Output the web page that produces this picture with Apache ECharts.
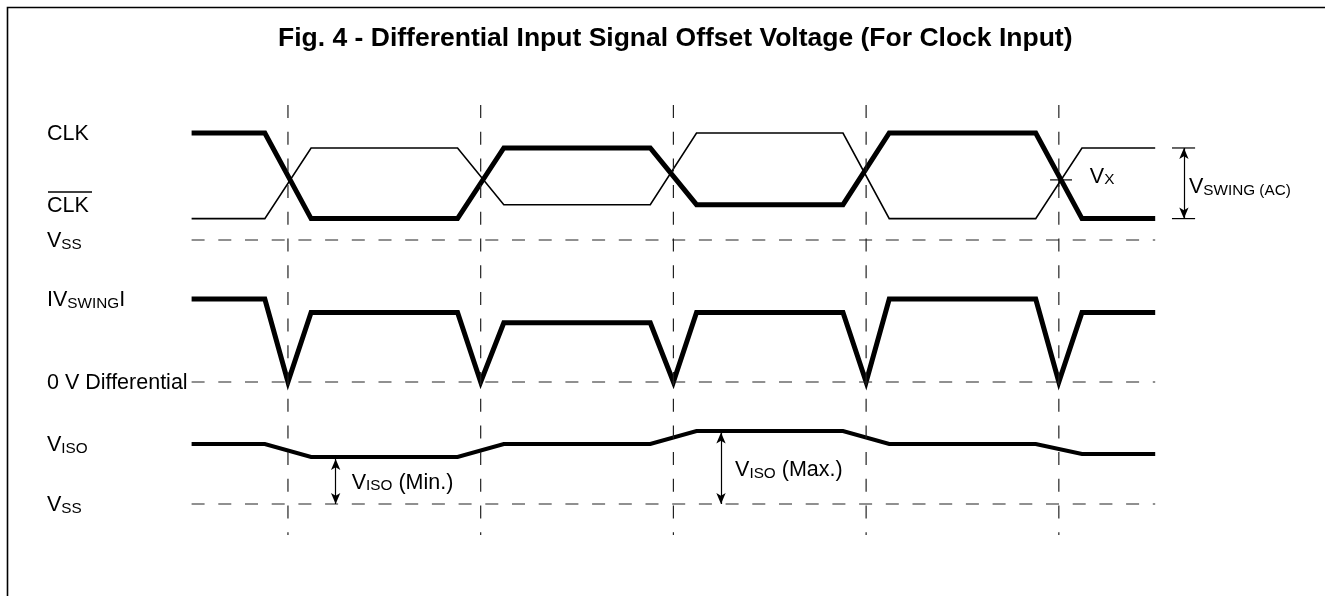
<!DOCTYPE html>
<html><head><meta charset="utf-8">
<script src="https://cdn.jsdelivr.net/npm/echarts@6/dist/echarts.min.js"></script>
<style>html,body{margin:0;padding:0;background:#fff}#c{width:1325px;height:596px}</style>
</head><body><div id="c"></div>
<script>
// ---------------- data ----------------
const titleText = 'Fig. 4 - Differential Input Signal Offset Voltage (For Clock Input)';
const edgeTimes = [1, 2, 3, 4, 5];           // crossing points (half clock periods)
const tStart = 0.5, tEnd = 5.5, tRamp = 0.12; // waveform span and half rise/fall time
const clkLevels    = [1.0, 0.2, 0.86, 0.33, 1.0, 0.2];   // V above Vss, per half period
const clkBarLevels = [0.2, 0.86, 0.33, 1.0, 0.2, 0.86];
const swingLevels  = [0.8, 0.67, 0.57, 0.67, 0.8, 0.67]; // |Vswing|
const visoLevels   = [0.6, 0.47, 0.6, 0.73, 0.6, 0.5];   // Viso
const lane1Ticks  = [1.0, 0.33, 0];
const lane1Labels = ['{b|CLK}', '{b|CLK}', '{b|V}{s|SS}'];
const lane2Ticks  = [0.8, 0];
const lane2Labels = ['{b|IV}{s|SWING}{b|I}', '{b|0 V Differential}'];
const lane3Ticks  = [0.6, 0];
const lane3Labels = ['{b|V}{s|ISO}', '{b|V}{s|SS}'];
const vxLabel = '{b|V}{s|X}';
const vswingLabel = '{b|V}{s|SWING (AC)}';
const visoMinLabel = '{b|V}{s|ISO}{b| (Min.)}';
const visoMaxLabel = '{b|V}{s|ISO}{b| (Max.)}';

// ---------------- style / layout ----------------
const FONT = "'Liberation Sans', Arial, Helvetica, sans-serif";
const BIG = 21.5, SMALL = 15.3;
const rich = {
  b: {fontFamily: FONT, fontSize: BIG, color: '#000', verticalAlign: 'bottom', lineHeight: BIG * 0.693},
  s: {fontFamily: FONT, fontSize: SMALL, color: '#000', verticalAlign: 'bottom', lineHeight: SMALL * 0.693}
};
const LABEL_PAD = [9, 0, 0, 0];
const X0 = 191.6, PX_PER_T = 192.72, T_MIN = 0.5, T_MAX = 6.0;
const GRID_W = (T_MAX - T_MIN) * PX_PER_T;
const LABEL_X = 47;
const DASH = [13, 13.7], DASH_COLOR = '#222', DASH_W = 1.2;

function stepWave(levels) {
  const pts = [[tStart, levels[0]]];
  edgeTimes.forEach((e, i) => { pts.push([e - tRamp, levels[i]]); pts.push([e + tRamp, levels[i + 1]]); });
  pts.push([tEnd, levels[levels.length - 1]]);
  return pts;
}
function swingWave(levels) {
  const pts = [[tStart, levels[0]]];
  edgeTimes.forEach((e, i) => { pts.push([e - tRamp, levels[i]]); pts.push([e, 0]); pts.push([e + tRamp, levels[i + 1]]); });
  pts.push([tEnd, levels[levels.length - 1]]);
  return pts;
}
function line(grid, data, width, type, extra) {
  return Object.assign({
    type: 'line', xAxisIndex: grid, yAxisIndex: grid, data: data, symbol: 'none', showSymbol: false,
    clip: false, silent: true, animation: false,
    lineStyle: {color: '#000', width: width, type: type || 'solid', join: 'miter', miterLimit: 20, cap: 'butt'}
  }, extra || {});
}
function labelFor(ticks, labels) {
  return v => { let k = 0; ticks.forEach((t, i) => { if (Math.abs(t - v) < Math.abs(ticks[k] - v)) k = i; }); return labels[k]; };
}
function yAx(grid, max, ticks, labels) {
  return {
    type: 'value', gridIndex: grid, min: 0, max: max,
    axisLine: {show: false}, axisTick: {show: false}, splitLine: {show: false},
    axisLabel: ticks ? {show: true, customValues: ticks, formatter: labelFor(ticks, labels), align: 'left',
      margin: X0 - LABEL_X, rich: rich, padding: LABEL_PAD, color: '#000', showMinLabel: true, showMaxLabel: true} : {show: false}
  };
}
function xAx(grid) {
  return {type: 'value', gridIndex: grid, min: T_MIN, max: T_MAX, show: false};
}
function grid(top, height) {
  return {left: X0, top: top, width: GRID_W, height: height, outerBoundsMode: 'none', containLabel: false};
}
const annLabel = {show: true, position: [0, 0], align: 'left', verticalAlign: 'middle', rich: rich,
  padding: LABEL_PAD, color: '#000', opacity: 1};

// Vx crossing point (last edge) computed from CLK / CLK# levels
const ei = edgeTimes.length - 1;
const a0 = clkLevels[ei], a1 = clkLevels[ei + 1], b0 = clkBarLevels[ei], b1 = clkBarLevels[ei + 1];
const sx = (a0 - b0) / ((a0 - b0) - (a1 - b1));
const vxT = edgeTimes[ei] - tRamp + 2 * tRamp * sx, vxV = a0 + (a1 - a0) * sx;
const dashStyle = {lineStyle: {color: DASH_COLOR, width: DASH_W, type: DASH}};

const series = [
  line(0, stepWave(clkLevels), 5),
  line(0, stepWave(clkBarLevels), 1.6),
  line(0, [[tStart, 0], [tEnd, 0]], DASH_W, DASH, dashStyle),
  line(1, swingWave(swingLevels), 5),
  line(1, [[tStart, 0], [tEnd, 0]], DASH_W, DASH, dashStyle),
  line(2, stepWave(visoLevels), 4),
  line(2, [[tStart, 0], [tEnd, 0]], DASH_W, DASH, dashStyle),
  // Vx crosshair
  line(0, [[vxT - 0.057, vxV], [vxT + 0.057, vxV]], 1.2),
  line(0, [[edgeTimes[ei], vxV + 0.065], [edgeTimes[ei], vxV - 0.065]], 1.2),
  // Vswing(AC) limits
  line(0, [[5.587, clkBarLevels[5]], [5.707, clkBarLevels[5]]], 1.2),
  line(0, [[5.587, clkLevels[5]], [5.707, clkLevels[5]]], 1.2),
  {type: 'line', xAxisIndex: 0, yAxisIndex: 0, data: [], silent: true, animation: false,
    markLine: {silent: true, animation: false, symbol: ['arrow', 'arrow'], symbolSize: [7, 11], label: {show: false},
      lineStyle: {color: '#000', width: 1.2, type: 'solid'},
      data: [[{coord: [5.649, clkBarLevels[5]]}, {coord: [5.649, clkLevels[5]]}]]}},
  {type: 'line', xAxisIndex: 2, yAxisIndex: 2, data: [], silent: true, animation: false,
    markLine: {silent: true, animation: false, symbol: ['arrow', 'arrow'], symbolSize: [7, 11], label: {show: false},
      lineStyle: {color: '#000', width: 1.2, type: 'solid'},
      data: [[{coord: [1.2475, visoLevels[1] - 0.02]}, {coord: [1.2475, 0]}],
             [{coord: [3.247, visoLevels[3] - 0.015]}, {coord: [3.247, 0]}]]}},
  // annotation labels
  {type: 'scatter', xAxisIndex: 0, yAxisIndex: 0, symbolSize: 0, silent: true, animation: false,
    itemStyle: {color: '#000', opacity: 1}, label: annLabel,
    data: [{value: [5.161, 0.60], label: {formatter: vxLabel}},
           {value: [5.675, 0.50], label: {formatter: vswingLabel}}]},
  {type: 'scatter', xAxisIndex: 2, yAxisIndex: 2, symbolSize: 0, silent: true, animation: false,
    itemStyle: {color: '#000', opacity: 1}, label: annLabel,
    data: [{value: [1.331, 0.223], label: {formatter: visoMinLabel}},
           {value: [3.32, 0.347], label: {formatter: visoMaxLabel}}]}
];
// vertical dashed guide lines at each crossing
edgeTimes.forEach(e => series.push(line(3, [[e, 1], [e, 0]], DASH_W, DASH, dashStyle)));

const chart = echarts.init(document.getElementById('c'), null, {renderer: 'canvas'});
chart.setOption({
  backgroundColor: '#fff',
  animation: false,
  title: {text: titleText, left: 273, top: 20,
    textStyle: {fontFamily: FONT, fontWeight: 'bold', fontSize: 26.5, color: '#000'}},
  grid: [grid(133, 107), grid(299, 83), grid(424, 80), grid(105, 430)],
  xAxis: [xAx(0), xAx(1), xAx(2), xAx(3)],
  yAxis: [yAx(0, 1.0, lane1Ticks, lane1Labels), yAx(1, 0.8, lane2Ticks, lane2Labels),
          yAx(2, 0.8, lane3Ticks, lane3Labels), yAx(3, 1, null, null)],
  series: series,
  graphic: [
    {type: 'polyline', silent: true, shape: {points: [[7.5, 596], [7.5, 7.5], [1325, 7.5]]},
      style: {stroke: '#000', lineWidth: 1.6, fill: null}},
    // overline of the complementary clock label
    {type: 'line', silent: true, shape: {x1: 48, y1: 192, x2: 92, y2: 192}, style: {stroke: '#000', lineWidth: 1.3}}
  ]
});
</script></body></html>
